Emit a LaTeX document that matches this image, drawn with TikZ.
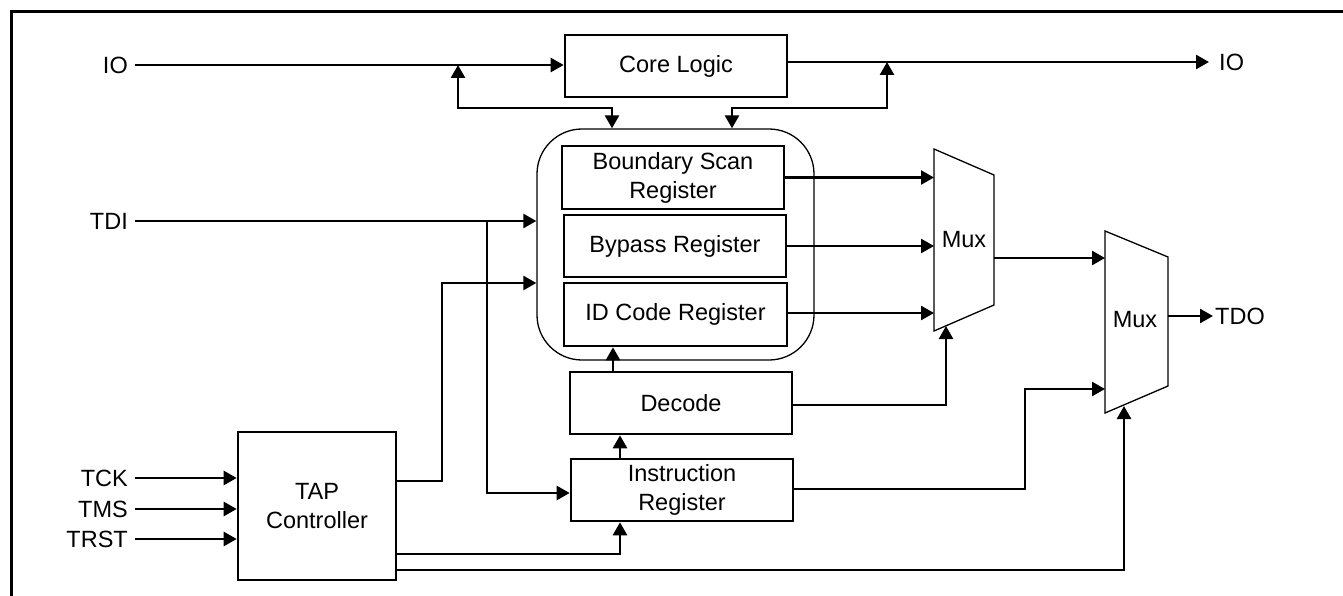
\documentclass[tikz,border=0pt]{standalone}
\usepackage{fontspec}
\setmainfont{Liberation Sans}
\usetikzlibrary{arrows.meta}
\begin{document}
\begin{tikzpicture}[x=1pt,y=-1pt,
  every node/.style={font=\fontsize{23.5}{29}\selectfont},
  box/.style={draw, line width=2.6pt, minimum width=222pt, minimum height=62pt, align=center, inner sep=0pt},
  lbl/.style={inner sep=0pt},
  wire/.style={line width=2.6pt},
  arr/.style={wire, -{Triangle[length=13pt,width=14pt]}},
  darr/.style={wire, {Triangle[length=13pt,width=14pt]}-{Triangle[length=13pt,width=14pt]}},
  thinline/.style={line width=1.3pt}]
\useasboundingbox (0,0) rectangle (1343,596);
% frame (only top and left edges visible)
\draw[line width=3pt] (11,620) -- (11,12) -- (1370,12);

% blocks
\node[box] (core) at (676,66) {Core Logic};
\node[draw, thinline, rounded corners=45pt, minimum width=277pt, minimum height=231pt] (cont) at (675.5,244.5) {};
\node[box, minimum height=63pt] (bsr) at (673,177.5) {Boundary Scan\\Register};
\node[box] (byp) at (675,246) {Bypass Register};
\node[box, minimum width=223pt, minimum height=63pt] (idc) at (675.5,314.5) {ID Code Register};
\node[box] (dec) at (681,403) {Decode};
\node[box] (ir) at (682,490) {Instruction\\Register};
\node[box, minimum width=158pt, minimum height=148pt] (tap) at (317,506) {TAP\\Controller};

% multiplexers
\draw[thinline] (934,149) -- (994,175) -- (994,305) -- (934,331) -- cycle;
\node (mux1) at (964,240) {Mux};
\coordinate (m1w) at (934,0);
\draw[thinline] (1105,231) -- (1168,257) -- (1168,386) -- (1105,413) -- cycle;
\node (mux2) at (1135,320) {Mux};
\coordinate (m2w) at (1105,0);

% labels
\node[lbl, anchor=east] (ioL) at (128,65) {IO};
\node[lbl, anchor=east] (tdi) at (128,221) {TDI};
\node[lbl, anchor=east] (tck) at (128,478) {TCK};
\node[lbl, anchor=east] (tms) at (128,509) {TMS};
\node[lbl, anchor=east] (trst) at (128,539) {TRST};
\node[lbl, anchor=west] (ioR) at (1219,62) {IO};
\node[lbl, anchor=west] (tdo) at (1215,316) {TDO};

% junction points
\coordinate (jl) at (458,65);
\coordinate (jr) at (887,62);
\coordinate (jt) at (487,221);
\coordinate (m1o) at (994,258);
\coordinate (m2o) at (1168,316);

% IO paths
\draw[arr] ([xshift=7pt]ioL.east) -- (core.west |- ioL);
\draw[arr] ([yshift=4pt]core.east) -- ([xshift=-10pt]ioR.west);
\draw[darr] (jl) |- (612,108) -- (cont.north -| 612,0);
\draw[darr] (jr) |- (732,108) -- (cont.north -| 732,0);

% TDI
\draw[arr] ([xshift=7pt]tdi.east) -- (cont.west |- tdi);
\draw[arr] (jt) |- ([yshift=-3pt]ir.west);

% TAP inputs
\draw[arr] ([xshift=7pt]tck.east) -- (tap.west |- tck);
\draw[arr] ([xshift=7pt]tms.east) -- (tap.west |- tms);
\draw[arr] ([xshift=7pt]trst.east) -- (tap.west |- trst);

% TAP outputs
\draw[arr] ([yshift=25pt]tap.east) -| (442,283) -- (cont.west |- 0,283);
\draw[arr] ([yshift=-48pt]tap.east) -| ([xshift=-62pt]ir.south);
\draw[arr] ([yshift=-64pt]tap.east) -| (1124,406);

% register to mux1
\draw[arr] (bsr.east) -- (bsr.east -| m1w);
\draw[arr] (byp.east) -- (byp.east -| m1w);
\draw[arr] ([yshift=1.5pt]idc.east) -- ([yshift=1.5pt]idc.east -| m1w);

% decode / IR chain
\draw[arr] (dec.north -| 613,0) -- (idc.south -| 613,0);
\draw[arr] (ir.north -| 620,0) -- (dec.south -| 620,0);
\draw[arr] ([yshift=-2pt]dec.east) -| (946,326);

% mux2
\draw[arr] (m1o) -- (m1o -| m2w);
\draw[arr] ([yshift=1pt]ir.east) -| (1025,389) -- (m2w |- 0,389);
\draw[arr] (m2o) -- ([xshift=-2pt]tdo.west);
\end{tikzpicture}
\end{document}
